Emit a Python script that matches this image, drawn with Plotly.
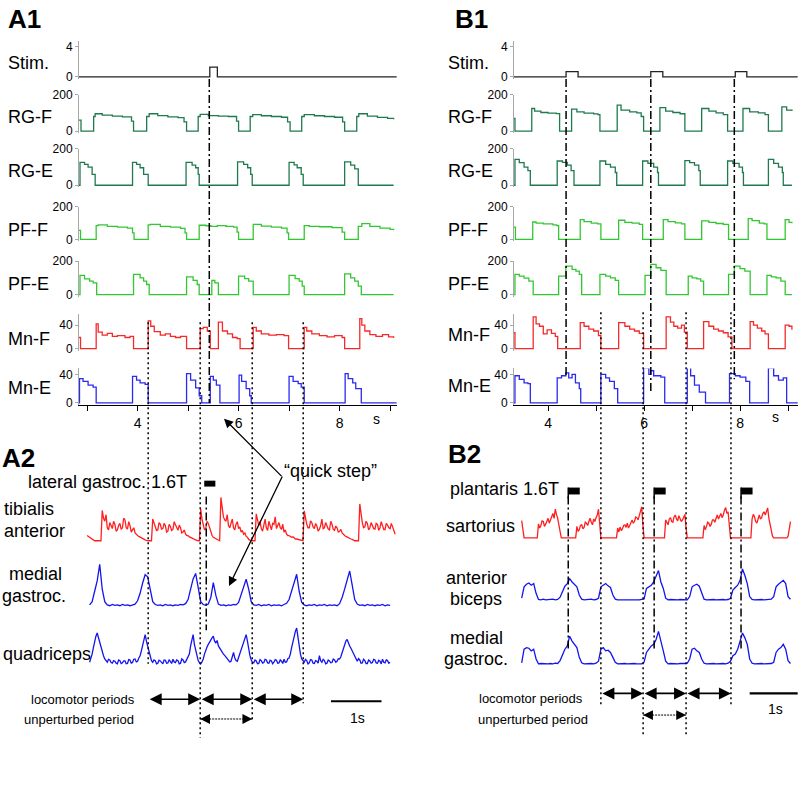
import plotly.graph_objects as go

W, H = 800, 788

# ======================= DATA =======================
# ---- A1 model traces: (time s, value) keyframes, drawn as step lines ----
A_stim = [(2.84, 0), (5.43, 1.3), (5.58, 0), (9.13, 0)]
A_rgf = [(2.84, 60), (2.88, 0), (3.13, 80), (3.16, 95), (3.30, 88), (3.50, 82), (3.70, 78), (3.88, 55), (3.92, 0),
         (4.18, 80), (4.23, 95), (4.40, 85), (4.60, 78), (4.80, 74), (4.92, 50), (4.97, 0),
         (5.20, 80), (5.24, 92), (5.40, 85), (5.60, 82), (5.80, 80), (5.96, 55), (6.00, 0),
         (6.23, 80), (6.28, 90), (6.45, 84), (6.65, 80), (6.85, 76), (6.97, 50), (7.02, 0),
         (7.25, 80), (7.30, 90), (7.50, 84), (7.70, 80), (7.90, 76), (8.06, 50), (8.10, 0),
         (8.34, 80), (8.38, 95), (8.55, 82), (8.75, 75), (8.95, 70), (9.07, 65)]
A_rge = [(2.84, 0), (2.86, 125), (2.95, 115), (3.02, 100), (3.10, 60), (3.16, 0),
         (3.90, 125), (3.98, 115), (4.05, 96), (4.12, 60), (4.21, 0),
         (4.96, 125), (5.08, 110), (5.15, 96), (5.20, 60), (5.22, 0),
         (5.98, 128), (6.10, 115), (6.18, 96), (6.24, 60), (6.27, 0),
         (7.00, 125), (7.10, 112), (7.16, 96), (7.24, 60), (7.28, 0),
         (8.10, 128), (8.22, 110), (8.30, 90), (8.37, 0), (9.07, 0)]
A_pff = [(2.84, 56), (2.87, 0), (3.18, 85), (3.22, 90), (3.40, 80), (3.60, 75), (3.80, 70), (3.90, 40), (3.93, 0),
         (4.21, 90), (4.25, 93), (4.45, 80), (4.65, 75), (4.85, 68), (4.94, 40), (4.97, 0),
         (5.22, 87), (5.35, 84), (5.45, 80), (5.58, 85), (5.75, 80), (5.90, 75), (5.97, 45), (6.00, 0),
         (6.29, 93), (6.45, 82), (6.65, 75), (6.85, 70), (6.96, 40), (6.99, 0),
         (7.30, 85), (7.40, 80), (7.60, 78), (7.85, 72), (8.05, 45), (8.10, 0),
         (8.37, 80), (8.44, 97), (8.60, 80), (8.80, 70), (9.00, 62), (9.07, 56)]
A_pfe = [(2.84, 0), (2.86, 114), (2.95, 94), (3.05, 80), (3.12, 70), (3.19, 0),
         (3.92, 120), (4.05, 100), (4.12, 80), (4.18, 60), (4.23, 0),
         (4.97, 106), (5.10, 85), (5.18, 60), (5.22, 0),
         (5.47, 84), (5.53, 70), (5.60, 0),
         (6.00, 110), (6.12, 95), (6.20, 80), (6.29, 0),
         (7.00, 114), (7.12, 95), (7.20, 80), (7.26, 50), (7.30, 0),
         (8.10, 124), (8.22, 100), (8.30, 80), (8.37, 50), (8.43, 0), (9.07, 0)]
A_mnf = [(2.84, 19), (2.87, 0), (3.18, 42), (3.22, 28), (3.30, 23), (3.40, 26), (3.50, 21), (3.60, 22), (3.75, 19), (3.85, 21), (3.92, 0),
         (4.21, 47), (4.26, 38), (4.33, 29), (4.45, 23), (4.55, 25), (4.65, 21), (4.75, 19), (4.85, 21), (4.97, 0),
         (5.24, 34), (5.30, 36), (5.38, 30), (5.44, 0),
         (5.60, 45), (5.68, 30), (5.78, 25), (5.88, 19), (5.97, 17), (6.03, 0),
         (6.29, 36), (6.35, 30), (6.45, 25), (6.60, 23), (6.75, 24), (6.90, 22), (6.99, 0),
         (7.30, 36), (7.35, 30), (7.45, 25), (7.60, 22), (7.75, 20), (7.90, 22), (8.05, 19), (8.10, 0),
         (8.40, 51), (8.44, 40), (8.50, 30), (8.60, 24), (8.72, 21), (8.85, 24), (8.97, 20), (9.07, 18)]
A_mne = [(2.84, 0), (2.85, 34), (2.92, 30), (3.02, 25), (3.12, 22), (3.18, 0),
         (3.90, 37), (3.98, 32), (4.05, 28), (4.15, 26), (4.21, 0),
         (4.97, 41), (5.05, 32), (5.15, 21), (5.22, 10), (5.27, 0),
         (5.44, 37), (5.50, 32), (5.56, 25), (5.63, 0),
         (6.01, 39), (6.06, 30), (6.15, 20), (6.22, 10), (6.25, 0),
         (7.00, 37), (7.08, 30), (7.18, 27), (7.24, 22), (7.30, 0),
         (8.11, 41), (8.17, 34), (8.26, 28), (8.32, 20), (8.43, 0), (9.13, 0)]

# ---- B1 model traces ----
B_stim = [(3.29, 0), (4.375, 0.7), (4.625, 0), (6.14, 0.7), (6.39, 0), (7.90, 0.7), (8.14, 0), (9.2, 0)]
B_rgf = [(3.29, 69), (3.31, 0), (3.66, 124), (3.72, 110), (3.85, 102), (4.00, 98), (4.17, 96), (4.24, 0),
         (4.49, 120), (4.60, 105), (4.75, 98), (4.95, 94), (5.04, 90), (5.08, 0),
         (5.44, 142), (5.52, 115), (5.70, 105), (5.85, 100), (5.94, 80), (5.99, 0),
         (6.33, 129), (6.45, 110), (6.60, 102), (6.75, 95), (6.85, 0),
         (7.20, 124), (7.35, 110), (7.50, 100), (7.65, 90), (7.74, 0),
         (8.06, 124), (8.20, 105), (8.38, 100), (8.52, 90), (8.59, 0),
         (8.87, 133), (8.97, 115), (9.08, 110)]
B_rge = [(3.29, 0), (3.31, 142), (3.40, 124), (3.50, 100), (3.58, 80), (3.63, 0),
         (4.19, 133), (4.30, 125), (4.40, 110), (4.48, 80), (4.54, 0),
         (5.08, 133), (5.20, 115), (5.30, 100), (5.40, 70), (5.43, 0),
         (5.97, 133), (6.08, 120), (6.20, 100), (6.28, 70), (6.30, 0),
         (6.85, 135), (6.95, 124), (7.05, 110), (7.14, 80), (7.17, 0),
         (7.74, 133), (7.85, 120), (7.98, 100), (8.05, 70), (8.07, 0),
         (8.59, 142), (8.70, 120), (8.80, 100), (8.88, 70), (8.90, 0), (9.08, 0)]
B_pff = [(3.29, 76), (3.32, 0), (3.68, 107), (3.75, 100), (3.90, 95), (4.10, 90), (4.18, 85), (4.22, 0),
         (4.67, 122), (4.75, 110), (4.90, 100), (5.03, 95), (5.10, 0),
         (5.47, 118), (5.60, 105), (5.75, 100), (5.90, 92), (5.97, 0),
         (6.40, 122), (6.50, 110), (6.65, 102), (6.78, 95), (6.85, 0),
         (7.20, 114), (7.35, 105), (7.50, 98), (7.65, 92), (7.76, 0),
         (8.17, 128), (8.25, 115), (8.40, 100), (8.50, 95), (8.56, 0),
         (8.94, 122), (9.02, 105), (9.08, 100)]
B_pfe = [(3.29, 0), (3.31, 120), (3.40, 110), (3.50, 98), (3.60, 80), (3.69, 0),
         (4.22, 110), (4.37, 170), (4.50, 150), (4.58, 140), (4.65, 120), (4.70, 0),
         (5.08, 120), (5.20, 110), (5.30, 100), (5.40, 85), (5.47, 0),
         (6.02, 114), (6.14, 180), (6.25, 160), (6.35, 145), (6.46, 0),
         (6.92, 110), (7.00, 100), (7.10, 94), (7.18, 80), (7.24, 0),
         (7.76, 120), (7.88, 170), (8.00, 155), (8.10, 140), (8.21, 0),
         (8.56, 114), (8.65, 105), (8.75, 100), (8.85, 80), (8.94, 0), (9.08, 0)]
B_mnf = [(3.29, 27), (3.31, 0), (3.69, 54), (3.75, 42), (3.82, 38), (3.90, 25), (3.98, 32), (4.07, 26), (4.15, 21), (4.20, 0),
         (4.67, 44), (4.75, 38), (4.85, 33), (4.95, 30), (5.05, 22), (5.10, 0),
         (5.47, 44), (5.60, 38), (5.70, 33), (5.80, 30), (5.90, 26), (5.99, 0),
         (6.46, 54), (6.55, 45), (6.62, 38), (6.70, 35), (6.78, 40), (6.84, 28), (6.90, 0),
         (7.24, 46), (7.35, 38), (7.45, 33), (7.55, 30), (7.65, 27), (7.75, 20), (7.83, 0),
         (8.21, 46), (8.28, 40), (8.36, 35), (8.45, 30), (8.52, 25), (8.59, 0),
         (8.94, 40), (9.02, 38), (9.08, 32)]
B_mne = [(3.29, 0), (3.31, 38), (3.40, 33), (3.50, 28), (3.58, 27), (3.63, 0),
         (4.19, 35), (4.28, 38), (4.37, 42), (4.43, 35), (4.50, 40), (4.57, 28), (4.65, 20), (4.68, 0),
         (5.10, 40), (5.20, 35), (5.28, 30), (5.38, 20), (5.45, 0),
         (5.99, 49), (6.10, 40), (6.14, 45), (6.20, 38), (6.35, 36), (6.43, 0),
         (6.90, 52), (6.97, 38), (7.05, 25), (7.15, 15), (7.28, 0),
         (7.78, 41), (7.90, 38), (8.00, 36), (8.12, 30), (8.20, 0),
         (8.59, 49), (8.70, 38), (8.80, 32), (8.90, 35), (8.97, 0), (9.2, 0)]

# ---- A2 / B2 EMG recordings: regularly sampled from a start time (arbitrary units) ----
A_tib_t0, A_tib_dt = 3.00, 0.025
A_tib = [12, 10, 8, 5, 2, 1, 0, 0, 0, 0, 0, 0, 70, 52, 45, 60, 30, 25, 42, 33,
         28, 45, 38, 22, 25, 35, 40, 26, 30, 52, 48, 30, 27, 44, 35, 20, 24, 30, 18, 14,
         12, 10, 8, 6, 5, 3, 2, 1, 0, 0, 0, 0, 50, 40, 32, 24, 25, 42, 38, 27,
         28, 40, 35, 20, 22, 38, 33, 24, 26, 44, 37, 29, 24, 36, 30, 18, 20, 25, 15, 12,
         12, 9, 8, 6, 5, 3, 2, 0, 0, 0, 73, 50, 35, 25, 28, 45, 40, 30, 22, 12,
         8, 6, 4, 3, 2, 0, 100, 75, 55, 48, 45, 60, 35, 30, 42, 50, 30, 25, 38, 44,
         28, 32, 20, 24, 15, 18, 10, 8, 3, 1, 0, 0, 0, 0, 62, 48, 35, 44, 28, 22,
         40, 50, 30, 24, 45, 32, 25, 40, 38, 55, 28, 35, 42, 30, 26, 38, 20, 25, 15, 12,
         12, 10, 8, 9, 6, 4, 4, 3, 2, 1, 0, 0, 69, 50, 38, 30, 30, 46, 42, 32,
         28, 40, 34, 22, 26, 35, 50, 28, 30, 42, 36, 27, 25, 45, 38, 26, 24, 34, 30, 20,
         22, 26, 18, 14, 12, 10, 8, 6, 5, 4, 3, 1, 0, 0, 0, 0, 85, 60, 42, 30,
         32, 45, 40, 25, 30, 42, 36, 28, 27, 40, 38, 24, 30, 44, 35, 26, 26, 40, 36, 30,
         28, 40, 32, 20, 15]
A_mg_t0, A_mg_dt = 3.05, 0.05
A_mg = [2, 10, 35, 60, 100, 40, 10, 2, 0, 3,
        1, 2, 0, 3, 1, 2, 0, 2, 4, 12,
        30, 55, 75, 70, 35, 10, 3, 1, 2, 0,
        3, 1, 2, 0, 2, 1, 3, 2, 5, 15,
        40, 65, 78, 40, 10, 3, 1, 4, 20, 56,
        25, 4, 1, 2, 0, 2, 1, 3, 2, 8,
        25, 45, 64, 40, 10, 2, 1, 3, 0, 2,
        1, 3, 0, 2, 1, 2, 0, 3, 6, 15,
        35, 55, 76, 35, 8, 2, 0, 2, 1, 3,
        0, 2, 1, 3, 0, 2, 1, 2, 0, 5,
        20, 40, 60, 84, 50, 15, 4, 1, 2, 0,
        3, 1, 2, 0, 2, 1, 3, 0, 2, 1]
A_quad_t0, A_quad_dt = 3.05, 0.025
A_quad = [5, 15, 30, 50, 70, 85, 95, 80, 70, 50, 35, 25, 15, 8, 5, 14, 12, 4, 2, 10,
          8, 2, 0, 12, 10, 1, 3, 9, 9, 0, 1, 13, 12, 2, 4, 14, 15, 6, 8, 18,
          25, 40, 60, 75, 90, 70, 55, 35, 20, 10, 5, 12, 10, 0, 2, 11, 9, 3, 0, 12,
          11, 2, 3, 13, 8, 1, 14, 6, 4, 12, 10, 0, 2, 15, 12, 4, 6, 14, 20, 30,
          55, 75, 90, 60, 40, 22, 10, 4, 0, 6, 15, 30, 45, 52, 60, 68, 72, 80, 85, 70,
          65, 72, 55, 48, 40, 35, 30, 26, 20, 15, 12, 6, 8, 20, 35, 18, 10, 8, 20, 30,
          45, 58, 70, 82, 90, 70, 45, 25, 12, 5, 3, 12, 9, 0, 1, 13, 10, 2, 4, 14,
          12, 3, 2, 11, 9, 0, 5, 13, 11, 2, 3, 12, 8, 1, 14, 5, 6, 16, 18, 30,
          50, 70, 85, 100, 110, 80, 50, 30, 15, 8, 5, 14, 10, 0, 3, 13, 12, 2, 1, 10,
          8, 2, 25, 10, 5, 14, 10, 0, 2, 12, 9, 3, 4, 15, 12, 5, 8, 16, 15, 22,
          35, 48, 60, 70, 75, 62, 55, 48, 40, 30, 20, 12, 8, 16, 12, 2, 3, 14, 10, 1,
          1, 12, 9, 2, 4, 14, 12, 3, 2, 11, 8, 0, 14, 5, 3, 12, 10, 2, 5]
B_sart_t0, B_sart_dt = 3.45, 0.025
B_sart = [53, 20, 0, 0, 0, 0, 0, 0, 0, 0, 0, 0, 0, 0, 43, 30, 38, 52, 50, 35,
          42, 55, 60, 45, 55, 70, 75, 60, 88, 72, 60, 40, 15, 0, 0, 0, 0, 0, 0, 0,
          0, 0, 0, 0, 0, 0, 35, 20, 25, 38, 40, 28, 32, 48, 45, 38, 50, 60, 48, 40,
          58, 50, 62, 70, 88, 40, 0, 0, 0, 0, 0, 0, 0, 0, 0, 0, 0, 0, 0, 0,
          30, 18, 33, 22, 28, 38, 40, 32, 45, 30, 38, 50, 55, 45, 50, 64, 62, 55, 70, 80,
          95, 40, 0, 0, 0, 0, 0, 0, 0, 0, 0, 0, 0, 0, 0, 0, 0, 0, 0, 0,
          55, 45, 40, 58, 62, 50, 48, 65, 70, 58, 52, 68, 60, 50, 55, 66, 72, 30, 0, 0,
          0, 0, 0, 0, 0, 0, 0, 0, 0, 0, 0, 0, 38, 25, 35, 48, 45, 35, 42, 55,
          55, 48, 60, 70, 58, 65, 75, 62, 70, 85, 93, 75, 80, 40, 0, 0, 0, 0, 0, 0,
          0, 0, 0, 0, 0, 0, 0, 0, 0, 0, 0, 0, 58, 72, 65, 50, 45, 62, 70, 58,
          62, 75, 80, 70, 85, 92, 60, 40, 20, 5, 0, 0, 0, 0, 0, 0, 0, 0, 0, 0,
          0, 0, 5, 30, 50]
B_bic_t0, B_bic_dt = 3.45, 0.05
B_bic = [5, 40, 48, 52, 45, 50, 20, 1, 0, 2,
         0, 1, 0, 2, 0, 1, 8, 25, 42, 50,
         65, 55, 48, 40, 15, 2, 0, 1, 0, 2,
         0, 1, 5, 40, 45, 50, 43, 38, 15, 2,
         0, 1, 0, 0, 1, 0, 0, 1, 0, 0,
         1, 3, 35, 40, 45, 55, 70, 90, 55, 35,
         5, 0, 1, 0, 1, 0, 1, 0, 1, 0,
         10, 40, 45, 48, 42, 20, 2, 0, 1, 0,
         1, 0, 1, 0, 1, 0, 1, 5, 30, 38,
         45, 60, 95, 75, 50, 10, 1, 0, 1, 0,
         1, 0, 1, 0, 2, 10, 40, 48, 55, 60,
         50, 10, 2]
B_mg_t0, B_mg_dt = 3.45, 0.05
B_mg = [3, 45, 50, 48, 40, 45, 15, 0, 1, 0,
        1, 0, 1, 0, 2, 1, 10, 30, 45, 55,
        85, 70, 60, 50, 20, 3, 0, 1, 0, 1,
        0, 2, 8, 45, 50, 40, 42, 35, 20, 5,
        0, 1, 0, 1, 0, 1, 0, 1, 0, 1,
        0, 5, 35, 45, 55, 60, 75, 100, 65, 40,
        8, 0, 1, 0, 1, 0, 1, 0, 1, 2,
        15, 45, 48, 40, 35, 15, 2, 0, 1, 0,
        1, 0, 1, 0, 1, 0, 2, 8, 25, 30,
        45, 70, 95, 80, 60, 15, 2, 0, 1, 0,
        1, 0, 1, 0, 1, 5, 35, 45, 50, 60,
        45, 10, 1]

# ---- event times (s) ----
A_loco = [4.21, 5.24, 6.27, 7.28]      # locomotor period boundaries (dotted lines)
A_unpert = [5.24, 6.27]
A_stim1_line = [5.42]                  # dash-dot through A1
A_stim2_line = [5.36]                  # dash-dot in A2
A_stim_bar = [(5.32, 5.54)]
B_loco = [5.10, 5.98, 6.875, 7.81]
B_unpert = [5.98, 6.875]
B_stim1_lines = [4.375, 6.14, 7.88]
B_stim2_lines = [4.42, 6.21, 8.02]
B_flag_w = 0.24
A_scale = (7.83, 8.83)                 # 1 s scale bar
B_scale = (8.20, 9.20)

A_xticks = [3, 4, 5, 6, 7, 8, 9]
A_xticktext = ['', '4', '', '6', '', '8', '']
B_xticks = [4, 5, 6, 7, 8, 9]
B_xticktext = ['4', '', '6', '', '8', '']

# ======================= STYLE / LAYOUT =======================
C_STIM = '#222222'
C_RG = '#1f7a4e'
C_PF = '#33c633'
C_MNF = '#f42a2a'
C_MNE = '#2a2af0'
C_RED = '#ff1f1f'
C_BLUE = '#1414ee'
FONT = 'Liberation Sans, Arial, sans-serif'


def py(p):
    return 1 - p / H


def pxp(p):
    return p / W


XA = dict(dom=(79, 397), t0=2.84, pps=50.5)
XB = dict(dom=(514, 798), t0=3.29, pps=48.0)


def xaxis_cfg(spec, anchor, tv, tt):
    d0, d1 = spec['dom']
    return dict(domain=[d0 / W, d1 / W], range=[spec['t0'], spec['t0'] + (d1 - d0) / spec['pps']],
                anchor=anchor, showline=True, linecolor='black', linewidth=1.2, ticks='outside',
                ticklen=5, tickcolor='black', tickvals=tv, ticktext=tt,
                tickfont=dict(size=14, color='black'), showgrid=False, zeroline=False, fixedrange=True)


def row_axis(zero_px, ppu, top_px, tmax, anchor, pad=2):
    bot = zero_px + pad
    return dict(domain=[py(bot), py(top_px)], range=[-pad / ppu, (zero_px - top_px) / ppu],
                anchor=anchor, showline=True, linecolor='#a8a8a8', linewidth=1, ticks='outside',
                ticklen=3, tickcolor='#a8a8a8', tickvals=[0, tmax], ticktext=['0', str(tmax)],
                tickfont=dict(size=12, color='black'), showgrid=False, zeroline=False, fixedrange=True)


def emg_axis(base_px, ppu, top_px, bot_px, anchor):
    return dict(domain=[py(bot_px), py(top_px)], range=[-(bot_px - base_px) / ppu, (base_px - top_px) / ppu],
                anchor=anchor, visible=False, fixedrange=True)


# zero_px, px-per-unit, top_px, tick max
ROWS_GEOM = [(71, 7.6, 35, 4), (126, 0.185, 89, 200), (181, 0.185, 144, 200),
             (236, 0.165, 203, 200), (292, 0.17, 258, 200), (347, 0.6, 312, 40), (402, 0.725, 367, 40)]
ROW_LABELS = ['Stim.', 'RG-F', 'RG-E', 'PF-F', 'PF-E', 'Mn-F', 'Mn-E']
ROW_COLORS = [C_STIM, C_RG, C_RG, C_PF, C_PF, C_MNF, C_MNE]
ROW_LABEL_Y = [57, 112, 167, 226, 281, 337, 387]
A_rows = [A_stim, A_rgf, A_rge, A_pff, A_pfe, A_mnf, A_mne]
B_rows = [B_stim, B_rgf, B_rge, B_pff, B_pfe, B_mnf, B_mne]

fig = go.Figure()
layout = dict(width=W, height=H, margin=dict(l=0, r=0, t=0, b=0), paper_bgcolor='white',
              plot_bgcolor='rgba(0,0,0,0)', showlegend=False,
              font=dict(family=FONT, color='black'))

layout['xaxis'] = xaxis_cfg(XA, 'y7', A_xticks, A_xticktext)
layout['xaxis2'] = xaxis_cfg(XB, 'y14', B_xticks, B_xticktext)

for panel, rows, xid in ((0, A_rows, 'x'), (1, B_rows, 'x2')):
    for i, data in enumerate(rows):
        k = panel * 7 + i + 1
        zero_px, ppu, top_px, tmax = ROWS_GEOM[i]
        layout['yaxis' if k == 1 else 'yaxis%d' % k] = row_axis(zero_px, ppu, top_px, tmax, xid)
        fig.add_trace(go.Scatter(x=[p[0] for p in data], y=[p[1] for p in data], mode='lines',
                                 line=dict(color=ROW_COLORS[i], width=1.3, shape='hv'),
                                 xaxis=xid, yaxis='y' if k == 1 else 'y%d' % k, hoverinfo='skip'))

EMG = [  # data, t0, dt, colour, xaxis, base_px, px-per-unit, top_px, bot_px
    (A_tib, A_tib_t0, A_tib_dt, C_RED, 'x', 542, 0.44, 490, 547),
    (A_mg, A_mg_t0, A_mg_dt, C_BLUE, 'x', 608, 0.42, 558, 613),
    (A_quad, A_quad_t0, A_quad_dt, C_BLUE, 'x', 667, 0.33, 624, 672),
    (B_sart, B_sart_t0, B_sart_dt, C_RED, 'x2', 539, 0.33, 500, 545),
    (B_bic, B_bic_t0, B_bic_dt, C_BLUE, 'x2', 602, 0.33, 565, 607),
    (B_mg, B_mg_t0, B_mg_dt, C_BLUE, 'x2', 667, 0.33, 628, 672),
]
for j, (vals, t0, dt, col, xid, base, ppu, top, bot) in enumerate(EMG):
    k = 15 + j
    layout['yaxis%d' % k] = emg_axis(base, ppu, top, bot, xid)
    ts = [round(t0 + i * dt, 4) for i in range(len(vals))]
    fig.add_trace(go.Scatter(x=ts, y=vals, mode='lines', line=dict(color=col, width=1.3),
                             xaxis=xid, yaxis='y%d' % k, hoverinfo='skip'))

# ---------------- shapes ----------------
shapes = []
DOT = '2px,3px'
DASHDOT = '8px,3px,2px,3px'


def vline(xref, t, y0, y1, dash, w=1.5):
    shapes.append(dict(type='line', xref=xref, yref='paper', x0=t, x1=t, y0=py(y0), y1=py(y1),
                       line=dict(color='black', width=w, dash=dash)))


for t, (y0, y1) in zip(A_loco, [(320, 667), (320, 742), (320, 725), (320, 707)]):
    vline('x', t, y0, y1, DOT)
for t, (y0, y1) in zip(B_loco, [(310, 710), (310, 740), (310, 740), (310, 710)]):
    vline('x2', t, y0, y1, DOT)
for t in A_stim1_line:
    vline('x', t, 73, 402, DASHDOT)
for t in A_stim2_line:
    vline('x', t, 497, 633, DASHDOT)
for t, y1 in zip(B_stim1_lines, [375, 393, 378]):
    vline('x2', t, 73, y1, DASHDOT)
for t in B_stim2_lines:
    vline('x2', t, 497, 653, DASHDOT)

for (t0, t1) in A_stim_bar:
    shapes.append(dict(type='rect', xref='x', yref='paper', x0=t0, x1=t1, y0=py(487), y1=py(481),
                       fillcolor='black', line=dict(width=0)))
for t in B_stim2_lines:
    shapes.append(dict(type='rect', xref='x2', yref='paper', x0=t, x1=t + B_flag_w, y0=py(495), y1=py(488),
                       fillcolor='black', line=dict(width=0)))
    shapes.append(dict(type='line', xref='x2', yref='paper', x0=t, x1=t, y0=py(499), y1=py(488),
                       line=dict(color='black', width=1.5)))

# scale bars
shapes.append(dict(type='line', xref='x', yref='paper', x0=A_scale[0], x1=A_scale[1], y0=py(705), y1=py(705),
                   line=dict(color='black', width=2.2)))
shapes.append(dict(type='line', xref='x2', yref='paper', x0=B_scale[0], x1=B_scale[1], y0=py(697), y1=py(697),
                   line=dict(color='black', width=2.2)))

# unperturbed period dotted shafts
shapes.append(dict(type='line', xref='x', yref='paper', x0=A_unpert[0], x1=A_unpert[1], y0=py(723), y1=py(723),
                   line=dict(color='black', width=1, dash='2px,1px')))
shapes.append(dict(type='line', xref='x2', yref='paper', x0=B_unpert[0], x1=B_unpert[1], y0=py(719), y1=py(719),
                   line=dict(color='black', width=1, dash='2px,1px')))

# ---------------- annotations ----------------
ann = []


def text(s, x, y, size, xanchor='left', bold=False):
    ann.append(dict(text=('<b>%s</b>' % s) if bold else s, x=pxp(x), y=py(y), xref='paper', yref='paper',
                    xanchor=xanchor, yanchor='middle', showarrow=False, borderpad=0,
                    font=dict(size=size, family=FONT, color='black')))


text('A1', 7, 12, 26, bold=True)
text('B1', 454, 12, 26, bold=True)
text('A2', 1, 458, 26, bold=True)
text('B2', 447, 454, 26, bold=True)
for lab, y in zip(ROW_LABELS, ROW_LABEL_Y):
    text(lab, 7, y, 18)
for lab, y in zip(ROW_LABELS, [57, 112, 167, 226, 281, 333, 385]):
    text(lab, 447, y, 18)
text('s', 376, 418, 14, 'center')
text('s', 775, 416, 14, 'center')

text('lateral gastroc. 1.6T', 27, 482, 18)
text('tibialis', 3, 510, 18)
text('anterior', 3, 532, 18)
text('medial', 35, 576, 18, 'center')
text('gastroc.', 34, 598, 18, 'center')
text('quadriceps', 2, 657, 18)
text('\u201cquick step\u201d', 330, 471, 18, 'center')

text('plantaris 1.6T', 449, 489, 18)
text('sartorius', 480, 527, 18, 'center')
text('anterior', 476, 580, 18, 'center')
text('biceps', 476, 601, 18, 'center')
text('medial', 477, 641, 18, 'center')
text('gastroc.', 476, 662, 18, 'center')

text('locomotor periods', 30, 703, 13)
text('unperturbed period', 23, 724, 13)
text('1s', 357, 722, 14, 'center')
text('locomotor periods', 478, 702, 13)
text('unperturbed period', 477, 724, 13)
text('1s', 775, 713, 14, 'center')

# "quick step" arrows
for hx, hy in ((224, 418), (229, 588)):
    ann.append(dict(x=pxp(hx), y=py(hy), xref='paper', yref='paper', ax=283 - hx, ay=477 - hy,
                    axref='pixel', ayref='pixel', text='', showarrow=True, arrowhead=2,
                    arrowsize=1.4, arrowwidth=1.3, arrowcolor='black', standoff=0))


def dbl_arrow(xref, t0, t1, ypx):
    ann.append(dict(x=t1, y=py(ypx), xref=xref, yref='paper', ax=t0, ay=0, axref=xref, ayref='pixel',
                    text='', showarrow=True, arrowhead=2, startarrowhead=2, arrowside='end+start',
                    arrowsize=1.5, startarrowsize=1.5, arrowwidth=1.6, arrowcolor='black',
                    standoff=0, startstandoff=0))


def head(xref, t, ypx, dx):
    ann.append(dict(x=t, y=py(ypx), xref=xref, yref='paper', ax=dx, ay=0, axref='pixel', ayref='pixel',
                    text='', showarrow=True, arrowhead=2, arrowsize=1.4, arrowwidth=1.4,
                    arrowcolor='black', standoff=0))


for a, b in zip(A_loco[:-1], A_loco[1:]):
    dbl_arrow('x', a, b, 703)
for a, b in zip(B_loco[:-1], B_loco[1:]):
    dbl_arrow('x2', a, b, 697)
head('x', A_unpert[0], 723, 10)
head('x', A_unpert[1], 723, -10)
head('x2', B_unpert[0], 719, 10)
head('x2', B_unpert[1], 719, -10)

layout['shapes'] = shapes
layout['annotations'] = ann
fig.update_layout(**layout)
fig.write_html('out.html', config=dict(displayModeBar=False),
               post_script="document.body.style.margin='0';document.body.style.overflow='hidden';")
